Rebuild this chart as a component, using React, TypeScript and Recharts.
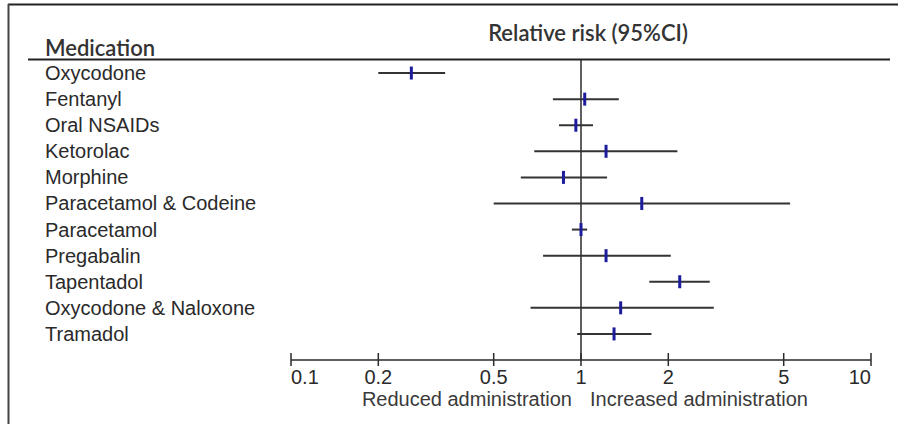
import React from 'react';
import { ScatterChart, XAxis, YAxis, Scatter, ReferenceLine } from 'recharts';

// rows top to bottom
const medications = [
  'Oxycodone',
  'Fentanyl',
  'Oral NSAIDs',
  'Ketorolac',
  'Morphine',
  'Paracetamol & Codeine',
  'Paracetamol',
  'Pregabalin',
  'Tapentadol',
  'Oxycodone & Naloxone',
  'Tramadol',
];
const relativeRisk = [0.26, 1.03, 0.96, 1.22, 0.87, 1.62, 1.0, 1.22, 2.19, 1.37, 1.3];
const ciLower = [0.2, 0.8, 0.84, 0.69, 0.62, 0.5, 0.93, 0.74, 1.72, 0.67, 0.97];
const ciUpper = [0.34, 1.35, 1.1, 2.15, 1.23, 5.26, 1.05, 2.04, 2.78, 2.87, 1.75];
const tickValues = [0.1, 0.2, 0.5, 1, 2, 5, 10];
const tickLabels = ['0.1', '0.2', '0.5', '1', '2', '5', '10'];

const rows = medications.map((name, i) => ({ row: i, name, rr: relativeRisk[i] }));

const SANS = '"Liberation Sans", Arial, sans-serif';
const HEAD = 'Lato, "Open Sans", sans-serif';
const INK = '#2a2a2a';

const NameTick = (props: any) => {
  const { y, payload } = props;
  return (
    <text x={45} y={y + 7} textAnchor="start" fontSize={20} fontFamily={SANS} fill={INK}>
      {medications[payload.value]}
    </text>
  );
};

const RiskTick = (props: any) => {
  const { x, y, payload, index } = props;
  const anchor = index === 0 ? 'start' : index === tickValues.length - 1 ? 'end' : 'middle';
  const i = tickValues.indexOf(payload.value);
  return (
    <g>
      <line x1={x} x2={x} y1={y - 7} y2={y + 6} stroke={INK} strokeWidth={1.5} />
      <text x={x} y={y + 24} textAnchor={anchor} fontSize={20} fontFamily={SANS} fill={INK}>
        {tickLabels[i]}
      </text>
    </g>
  );
};

const Marker = (props: any) => {
  const { cx, cy } = props;
  return <rect x={cx - 1.5} y={cy - 6.5} width={3} height={13} fill="#1c1c9c" />;
};

const App: React.FC = () => {
  return (
    <div style={{ position: 'absolute', left: 0, top: 0, width: 898, height: 424, background: '#fff' }}>
      <ScatterChart width={898} height={424} margin={{ top: 60, right: 27, bottom: 14, left: 0 }}>
        <XAxis
          type="number"
          dataKey="rr"
          scale="log"
          domain={[0.1, 10]}
          ticks={tickValues}
          allowDataOverflow
          height={50}
          tickSize={0}
          tickMargin={0}
          tickLine={false}
          axisLine={{ stroke: INK, strokeWidth: 1.5 }}
          tick={<RiskTick />}
        />
        <YAxis
          type="number"
          dataKey="row"
          domain={[-0.5, 11]}
          reversed
          ticks={rows.map((r) => r.row)}
          interval={0}
          width={291}
          axisLine={false}
          tickLine={false}
          tick={<NameTick />}
        />
        <ReferenceLine x={1} stroke={INK} strokeWidth={1.5} />
        {rows.map((r, i) => (
          <ReferenceLine
            key={r.name}
            segment={[
              { x: ciLower[i], y: r.row },
              { x: ciUpper[i], y: r.row },
            ]}
            stroke="#333"
            strokeWidth={2}
          />
        ))}
        <Scatter data={rows} shape={<Marker />} isAnimationActive={false} />
      </ScatterChart>
      <svg
        width={898}
        height={424}
        style={{ position: 'absolute', left: 0, top: 0, pointerEvents: 'none' }}
      >
        <line x1={8} x2={898} y1={4.5} y2={4.5} stroke="#222" strokeWidth={2} />
        <line x1={8.5} x2={8.5} y1={4} y2={424} stroke="#444" strokeWidth={2} />
        <line x1={28} x2={890} y1={59.5} y2={59.5} stroke="#222" strokeWidth={1.8} />
        <text x={45} y={56} fontSize={22} fontFamily={HEAD} fontWeight={600} fill="#333">
          Medication
        </text>
        <text x={588} y={41} textAnchor="middle" fontSize={22} fontFamily={HEAD} fontWeight={600} fill="#333">
          Relative risk (95%CI)
        </text>
        <text x={572} y={406} textAnchor="end" fontSize={20} fontFamily={SANS} fill="#3a3a3a">
          Reduced administration
        </text>
        <text x={590} y={406} textAnchor="start" fontSize={20} fontFamily={SANS} fill="#3a3a3a">
          Increased administration
        </text>
      </svg>
    </div>
  );
};

export default App;
